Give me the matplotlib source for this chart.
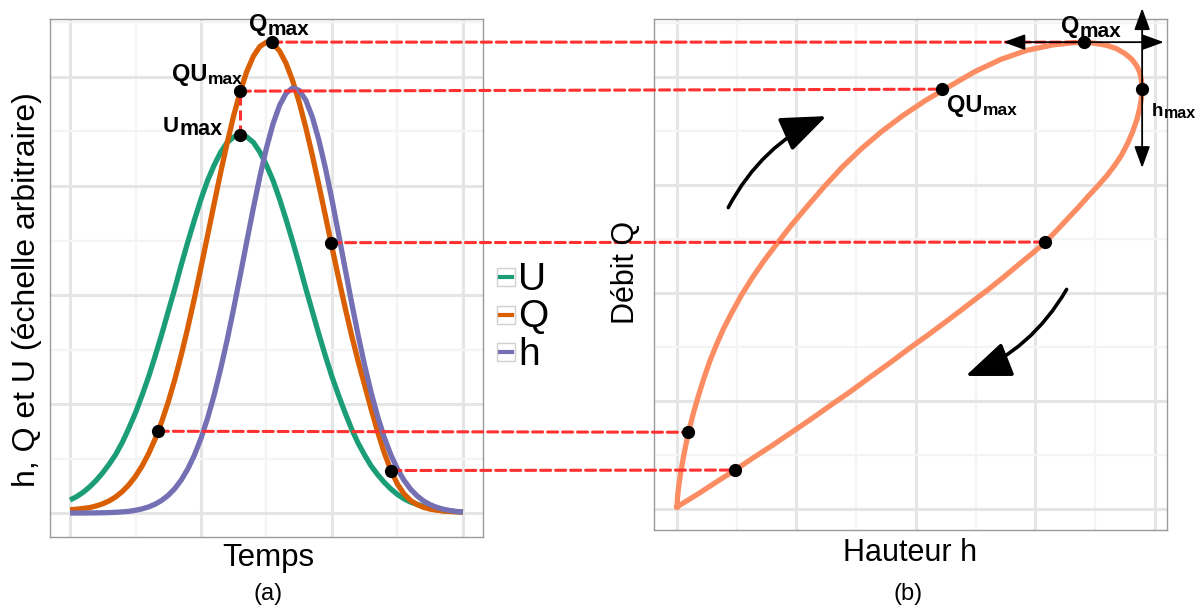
import matplotlib.pyplot as plt
from matplotlib.patches import ConnectionPatch, FancyArrowPatch, Rectangle
from matplotlib.lines import Line2D

plt.rcParams['font.family'] = ['Liberation Sans', 'DejaVu Sans']

# hydrogrammes (panneau a)
temps = [0.00, 0.05, 0.10, 0.15, 0.20, 0.25, 0.30, 0.35, 0.40, 0.45,
         0.50, 0.55, 0.60, 0.65, 0.70, 0.75, 0.80, 0.85, 0.90, 0.95,
         1.00, 1.05, 1.10, 1.15, 1.20, 1.25, 1.30, 1.35, 1.40, 1.45,
         1.50, 1.55, 1.60, 1.65, 1.70, 1.75, 1.80, 1.85, 1.90, 1.95,
         2.00, 2.05, 2.10, 2.15, 2.20, 2.25, 2.30, 2.35, 2.40, 2.45,
         2.50, 2.55, 2.60, 2.65, 2.70, 2.75, 2.80, 2.85, 2.90, 2.95, 3.00]
U = [0.12, 0.15, 0.19, 0.24, 0.30, 0.37, 0.45, 0.54, 0.65, 0.78,
     0.92, 1.08, 1.25, 1.44, 1.64, 1.85, 2.06, 2.28, 2.49, 2.69,
     2.88, 3.05, 3.19, 3.31, 3.40, 3.45, 3.47, 3.45, 3.40, 3.31,
     3.19, 3.05, 2.88, 2.69, 2.49, 2.28, 2.06, 1.85, 1.64, 1.44,
     1.25, 1.08, 0.92, 0.77, 0.64, 0.53, 0.43, 0.35, 0.28, 0.22,
     0.17, 0.13, 0.10, 0.08, 0.06, 0.04, 0.03, 0.02, 0.017, 0.012, 0.008]
Q = [0.030, 0.035, 0.042, 0.050, 0.065, 0.085, 0.112, 0.149, 0.198, 0.260,
     0.337, 0.431, 0.545, 0.680, 0.838, 1.020, 1.225, 1.454, 1.704, 1.973,
     2.255, 2.545, 2.837, 3.125, 3.397, 3.648, 3.869, 4.052, 4.191, 4.281,
     4.319, 4.304, 4.238, 4.123, 3.964, 3.767, 3.536, 3.281, 3.008, 2.725,
     2.439, 2.157, 1.886, 1.629, 1.391, 1.170, 0.950, 0.740, 0.550, 0.390,
     0.265, 0.175, 0.115, 0.077, 0.052, 0.036, 0.026, 0.019, 0.014, 0.011, 0.009]
h = [0.000, 0.000, 0.000, 0.001, 0.0015, 0.0025, 0.004, 0.0066, 0.0105, 0.016,
     0.025, 0.038, 0.056, 0.081, 0.116, 0.163, 0.224, 0.305, 0.406, 0.532,
     0.686, 0.869, 1.081, 1.323, 1.590, 1.880, 2.184, 2.494, 2.800, 3.089,
     3.350, 3.571, 3.740, 3.852, 3.900, 3.877, 3.787, 3.632, 3.420, 3.163,
     2.872, 2.561, 2.243, 1.929, 1.629, 1.351, 1.100, 0.880, 0.690, 0.532,
     0.403, 0.300, 0.219, 0.157, 0.110, 0.076, 0.052, 0.035, 0.023, 0.015, 0.009]
series_names = ['U', 'Q', 'h']
series_colors = ['#1B9E77', '#D95F02', '#7570B3']

# boucle Q(h) (panneau b) : montee, sommet, descente
loop_h = [0.00, 0.005, 0.015, 0.03, 0.05, 0.075, 0.105, 0.14, 0.18, 0.225,
          0.275, 0.33, 0.39, 0.46, 0.54, 0.63, 0.73, 0.84, 0.96, 1.09,
          1.23, 1.38, 1.54, 1.71, 1.89, 2.08, 2.28, 2.49, 2.71, 2.93,
          3.15, 3.30,
          3.41, 3.50, 3.60, 3.68, 3.75, 3.81, 3.85, 3.875, 3.889, 3.895,
          3.889, 3.875, 3.85, 3.815, 3.77, 3.72, 3.665, 3.60, 3.52, 3.44,
          3.36, 3.27, 3.18, 3.085,
          2.98, 2.87, 2.74, 2.605, 2.45, 2.29, 2.12, 1.95, 1.78, 1.61,
          1.45, 1.28, 1.12, 0.96, 0.80, 0.64, 0.486, 0.33, 0.17, 0.00]
loop_Q = [0.02, 0.12, 0.22, 0.33, 0.46, 0.60, 0.75, 0.90, 1.05, 1.21,
          1.37, 1.52, 1.67, 1.82, 1.98, 2.14, 2.30, 2.46, 2.63, 2.80,
          2.98, 3.16, 3.33, 3.49, 3.64, 3.78, 3.91, 4.045, 4.16, 4.245,
          4.295, 4.313,
          4.32, 4.31, 4.29, 4.26, 4.215, 4.16, 4.10, 4.04, 3.97, 3.89,
          3.80, 3.71, 3.60, 3.49, 3.375, 3.27, 3.18, 3.085, 2.985, 2.89,
          2.79, 2.685, 2.578, 2.47,
          2.37, 2.27, 2.15, 2.03, 1.90, 1.765, 1.625, 1.49, 1.35, 1.215,
          1.085, 0.955, 0.83, 0.71, 0.59, 0.475, 0.36, 0.25, 0.135, 0.02]

# points marques : Qmax, QUmax, Umax / hmax, descente, montee, descente basse
pts_t = [1.54, 1.30, 1.30, 1.99, 0.674, 2.45]
pts_v = [4.32, 3.87, 3.47, 2.48, 0.75, 0.39]
pts_h = [3.41, 2.22, 3.895, 3.085, 0.095, 0.486]
pts_Q = [4.32, 3.885, 3.89, 2.47, 0.71, 0.36]
links = [(0, 0), (1, 1), (3, 3), (4, 4), (5, 5)]

W, H = 1198, 609
fx = lambda x: x / W
fy = lambda y: 1 - y / H

fig = plt.figure(figsize=(W / 100, H / 100), dpi=100)
axA = fig.add_axes([fx(50), fy(537), fx(433), 518 / H])
axB = fig.add_axes([fx(654), fy(529.5), fx(512.5), 511 / H])


def style(ax, xmaj, xmin, ymaj, ymin):
    ax.set_xticks(xmaj)
    ax.set_xticks(xmin, minor=True)
    ax.set_yticks(ymaj)
    ax.set_yticks(ymin, minor=True)
    ax.grid(which='major', color='#E5E5E5', lw=2.2)
    ax.grid(which='minor', color='#F4F4F4', lw=1.6)
    ax.tick_params(which='both', length=0, labelbottom=False, labelleft=False)
    for s in ax.spines.values():
        s.set_color('#9A9A9A')
        s.set_linewidth(1)
    ax.set_axisbelow(True)


style(axA, [0, 1, 2, 3], [0.5, 1.5, 2.5], [0, 1, 2, 3, 4], [0.5, 1.5, 2.5, 3.5, 4.5])
axA.set_xlim(-0.153, 3.153)
axA.set_ylim(-0.22, 4.532)
for vals, col in zip([U, Q, h], series_colors):
    axA.plot(temps, vals, color=col, lw=3.8, solid_capstyle='butt')

style(axB, [0, 1, 2, 3, 4], [0.5, 1.5, 2.5, 3.5], [0, 1, 2, 3, 4], [0.5, 1.5, 2.5, 3.5, 4.5])
axB.set_xlim(-0.193, 4.099)
axB.set_ylim(-0.19, 4.539)
axB.plot(loop_h, loop_Q, color='#FC8D62', lw=3.8, solid_joinstyle='miter')

red = '#FF3030'
dash = (0, (3.3, 1.6))
for a, b in links:
    con = ConnectionPatch(xyA=(pts_t[a], pts_v[a]), coordsA=axA.transData,
                          xyB=(pts_h[b], pts_Q[b]), coordsB=axB.transData,
                          color=red, lw=2.2, ls=dash, zorder=2)
    fig.add_artist(con)
fig.add_artist(Line2D([pts_t[2], pts_t[1]], [pts_v[2], pts_v[1]], transform=axA.transData,
                      color=red, lw=2.2, ls=dash, zorder=2))

# fleches noires
arr_kw = dict(color='black', lw=1.3, mutation_scale=12, zorder=3,
              arrowstyle='<|-|>,head_length=1.1,head_width=0.4')
fig.add_artist(FancyArrowPatch((pts_h[0] - 0.70, pts_Q[0]), (4.10, pts_Q[0]),
                               transform=axB.transData, **arr_kw))
fig.add_artist(FancyArrowPatch((pts_h[2], 4.66), (pts_h[2], 3.13),
                               transform=axB.transData, **arr_kw))
big_kw = dict(color='black', lw=2.6, mutation_scale=20, zorder=3,
              arrowstyle='-|>,head_length=1.4,head_width=0.55',
              connectionstyle='arc3,rad=-0.18')
fig.add_artist(FancyArrowPatch((fx(727), fy(210)), (fx(829), fy(115)),
                               transform=fig.transFigure, **big_kw))
fig.add_artist(FancyArrowPatch((fx(1068), fy(287)), (fx(963), fy(377)),
                               transform=fig.transFigure, **big_kw))

# points noirs
fig.add_artist(Line2D(pts_t, pts_v, transform=axA.transData, ls='none',
                      marker='o', ms=8.5, color='black', zorder=4))
fig.add_artist(Line2D(pts_h, pts_Q, transform=axB.transData, ls='none',
                      marker='o', ms=8.5, color='black', zorder=4))


def sub_label(x, y, main, sub, size, sub_size, drop):
    t = fig.text(fx(x), fy(y), main, fontsize=size, fontweight='bold',
                 ha='left', va='baseline', zorder=5)
    axB.annotate(sub, xy=(1, 0), xycoords=t, xytext=(0.3, -drop),
                 textcoords='offset points', fontsize=sub_size, fontweight='bold',
                 ha='left', va='bottom', annotation_clip=False)


sub_label(249, 31, 'Q', 'max', 17, 15, 2.5)
sub_label(172, 81, 'QU', 'max', 17, 12.5, 1.0)
sub_label(163, 132, 'U', 'max', 16, 15.5, 2.5)
sub_label(1061, 33, 'Q', 'max', 17, 15, 2.5)
sub_label(947, 112, 'QU', 'max', 17, 12.5, 1.0)
sub_label(1152, 116, 'h', 'max', 13.5, 11.5, 0.5)

# legende
for i, (lab, col) in enumerate(zip(series_names, series_colors)):
    yc = 277 + 37.5 * i
    fig.add_artist(Rectangle((fx(497), fy(yc + 9)), 18 / W, 18 / H, transform=fig.transFigure,
                             fc='white', ec='#D0D0D0', lw=1))
    fig.add_artist(Line2D([fx(500), fx(512)], [fy(yc), fy(yc)], color=col, lw=3))
    fig.text(fx(518), fy(yc + 13), lab, fontsize=28, va='baseline')

fig.text(fx(27), fy(290), 'h, Q et U (échelle arbitraire)', rotation=90,
         fontsize=23, ha='center', va='center')
fig.text(fx(626), fy(272), 'Débit Q', rotation=90, fontsize=22, ha='center', va='center')
fig.text(fx(268), fy(558), 'Temps', fontsize=22.5, ha='center', va='center')
fig.text(fx(910), fy(553), 'Hauteur h', fontsize=22, ha='center', va='center')
fig.text(fx(268), fy(594), '(a)', fontsize=17, ha='center', va='center')
fig.text(fx(908), fy(594), '(b)', fontsize=17, ha='center', va='center')

fig.savefig('out.png', dpi=100, facecolor='white')
